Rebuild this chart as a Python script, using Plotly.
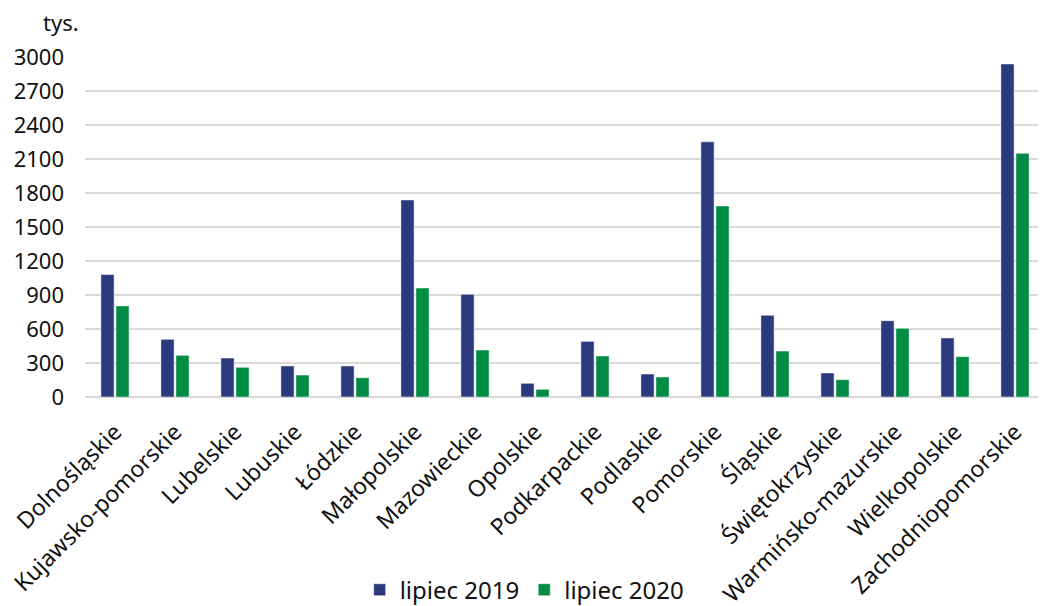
import plotly.graph_objects as go

categories = ["Dolnośląskie", "Kujawsko-pomorskie", "Lubelskie", "Lubuskie", "Łódzkie",
              "Małopolskie", "Mazowieckie", "Opolskie", "Podkarpackie", "Podlaskie",
              "Pomorskie", "Śląskie", "Świętokrzyskie", "Warmińsko-mazurskie",
              "Wielkopolskie", "Zachodniopomorskie"]
values_2019 = [1080, 509, 344, 274, 274, 1739, 906, 121, 491, 203, 2252, 721, 212, 673, 521, 2939]
values_2020 = [804, 368, 262, 194, 170, 962, 415, 68, 362, 177, 1686, 406, 153, 606, 356, 2150]
y_ticks = [0, 300, 600, 900, 1200, 1500, 1800, 2100, 2400, 2700, 3000]

FONT = "Noto Sans"

fig = go.Figure()
fig.add_trace(go.Bar(x=categories, y=values_2019, name="lipiec 2019",
                     marker=dict(color="#2B3A7D", line=dict(color="#ffffff", width=0.5))))
fig.add_trace(go.Bar(x=categories, y=values_2020, name="lipiec 2020",
                     marker=dict(color="#008C44", line=dict(color="#ffffff", width=0.5))))

fig.update_layout(
    width=1038, height=598,
    margin=dict(l=77, r=1, t=49, b=209, autoexpand=False),
    paper_bgcolor="white", plot_bgcolor="white",
    font=dict(family=FONT, size=22, color="#111111"),
    barmode="group", bargap=0.5, bargroupgap=0.12,
    showlegend=True,
    legend=dict(orientation="h", x=0.458, xanchor="center", y=-0.568, yanchor="middle",
                font=dict(size=24), itemwidth=30, traceorder="normal"),
    annotations=[dict(text="tys.", xref="paper", yref="paper", x=-0.004, y=1.103,
                      xanchor="right", yanchor="middle", showarrow=False,
                      font=dict(size=22))],
)
fig.update_xaxes(tickangle=-45, showgrid=False, showline=False, ticks="",
                 tickfont=dict(size=23), automargin=False, ticklabelstandoff=16)
fig.update_yaxes(range=[0, 3000], tickvals=y_ticks, showgrid=True, gridcolor="#d9d9d9",
                 gridwidth=1.5, zeroline=True, zerolinecolor="#d9d9d9", zerolinewidth=1.5,
                 showline=False, ticks="", ticklen=0, ticklabelstandoff=20,
                 tickfont=dict(size=22), automargin=False)

fig.write_html("out.html")
